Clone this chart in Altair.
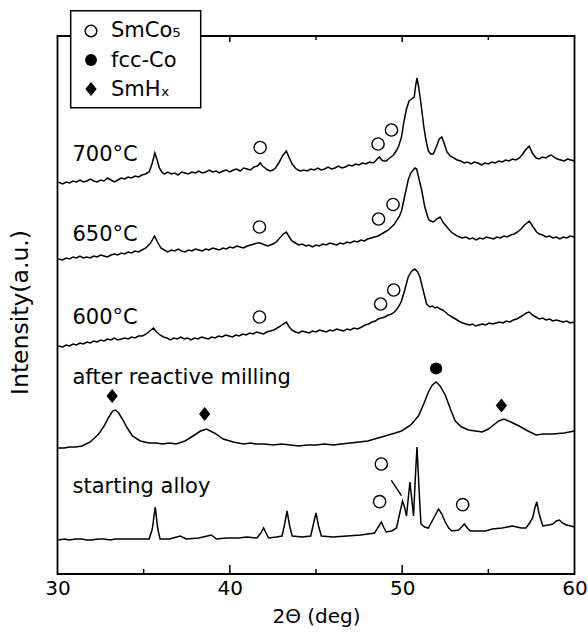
import altair as alt
import pandas as pd

FONT = "DejaVu Sans"

# ---------------- data (2-theta in deg, intensity in a.u.) ----------------
pts_700 = [(30.05,392),(30.3,390),(30.5,392),(30.7,391),(30.9,393),(31.1,392),(31.3,394),(31.5,392),(31.7,393),(31.9,395),(32.1,393),(32.3,392),(32.5,394),(32.7,393),(32.9,396),(33.1,394),(33.3,392),(33.5,394),(33.7,396),(33.9,395),(34.1,397),(34.3,396),(34.5,398),(34.7,397),(34.9,399),(35.1,400),(35.32,402),(35.5,411),(35.65,421),(35.8,413),(35.91,406),(36.05,402),(36.2,400),(36.4,402),(36.6,400),(36.8,401),(37.0,399),(37.2,402),(37.4,401),(37.6,400),(37.8,402),(38.0,401),(38.2,403),(38.4,401),(38.6,402),(38.8,404),(39.0,402),(39.2,403),(39.4,401),(39.6,403),(39.8,404),(40.0,402),(40.2,404),(40.4,405),(40.6,403),(40.8,406),(41.0,405),(41.2,404),(41.4,407),(41.6,408),(41.76,411),(41.9,408),(42.05,406),(42.2,404),(42.35,403),(42.5,404),(42.65,406),(42.84,411),(43.05,418),(43.28,423),(43.45,416),(43.62,410),(43.8,406),(43.95,404),(44.1,403),(44.3,404),(44.5,403),(44.7,405),(44.9,404),(45.1,406),(45.3,404),(45.5,405),(45.7,407),(45.9,405),(46.1,406),(46.3,408),(46.5,406),(46.7,407),(46.9,409),(47.1,408),(47.3,410),(47.5,409),(47.7,411),(47.9,410),(48.1,412),(48.3,411),(48.45,413),(48.6,416),(48.69,417),(48.8,414),(48.95,413),(49.08,413),(49.2,415),(49.35,417),(49.5,419),(49.65,423),(49.8,428),(49.96,437),(50.1,452),(50.25,465),(50.4,473),(50.55,475),(50.7,477),(50.78,488),(50.86,496),(50.95,488),(51.03,478),(51.13,465),(51.25,448),(51.4,432),(51.52,423),(51.65,420),(51.81,420),(52.0,428),(52.15,435),(52.3,437),(52.45,430),(52.6,422),(52.79,418),(53.0,416),(53.2,414),(53.4,413),(53.6,411),(53.8,412),(54.0,410),(54.2,412),(54.4,411),(54.6,409),(54.8,411),(55.0,410),(55.2,412),(55.4,411),(55.6,413),(55.8,412),(56.0,414),(56.2,413),(56.4,415),(56.6,414),(56.8,416),(57.0,420),(57.15,424),(57.38,428),(57.55,421),(57.77,416),(57.95,415),(58.15,417),(58.35,416),(58.5,418),(58.65,419),(58.8,417),(59.0,415),(59.2,414),(59.4,413),(59.6,415),(59.8,414),(60.0,413)]

pts_650 = [(30.05,315),(30.3,314),(30.5,316),(30.7,315),(30.9,317),(31.1,316),(31.3,318),(31.5,316),(31.7,317),(31.9,316),(32.1,318),(32.3,317),(32.5,319),(32.7,318),(32.9,317),(33.1,319),(33.3,320),(33.5,319),(33.7,321),(33.9,320),(34.1,322),(34.3,321),(34.5,323),(34.7,322),(34.9,324),(35.13,326),(35.4,331),(35.63,338),(35.8,332),(36.0,326),(36.2,324),(36.4,322),(36.6,324),(36.8,323),(37.0,325),(37.2,323),(37.4,322),(37.6,324),(37.8,323),(38.0,325),(38.2,324),(38.4,323),(38.6,325),(38.8,324),(39.0,326),(39.2,325),(39.4,324),(39.6,326),(39.8,325),(40.0,327),(40.2,326),(40.4,328),(40.6,327),(40.8,326),(41.0,328),(41.2,329),(41.4,330),(41.6,331),(41.76,331),(41.9,330),(42.05,329),(42.2,328),(42.35,329),(42.5,330),(42.7,332),(42.9,336),(43.1,340),(43.28,342),(43.45,337),(43.6,333),(43.8,331),(44.0,329),(44.2,330),(44.4,328),(44.6,329),(44.8,327),(45.0,329),(45.2,328),(45.4,330),(45.6,329),(45.8,331),(46.0,330),(46.2,329),(46.4,331),(46.6,330),(46.8,332),(47.0,331),(47.2,333),(47.4,332),(47.6,334),(47.8,333),(48.0,335),(48.2,336),(48.4,337),(48.6,338),(48.8,340),(49.0,342),(49.2,344),(49.38,347),(49.55,350),(49.7,354),(49.85,358),(49.96,363),(50.15,378),(50.35,394),(50.5,401),(50.64,404),(50.75,406),(50.84,405),(50.95,397),(51.13,384),(51.3,368),(51.52,355),(51.65,353),(51.81,352),(52.0,355),(52.2,357),(52.4,351),(52.55,348),(52.69,345),(52.85,342),(53.0,340),(53.2,338),(53.47,336),(53.7,337),(53.9,335),(54.1,336),(54.3,334),(54.5,336),(54.7,335),(54.9,337),(55.1,336),(55.3,335),(55.5,337),(55.7,336),(55.9,338),(56.1,337),(56.3,339),(56.5,340),(56.7,342),(56.9,345),(57.1,349),(57.38,353),(57.6,347),(57.8,342),(57.96,340),(58.15,339),(58.35,337),(58.55,338),(58.75,336),(58.95,337),(59.15,335),(59.35,337),(59.55,336),(59.75,338),(60.0,337)]

pts_600 = [(30.05,228),(30.3,227),(30.5,229),(30.7,228),(30.9,230),(31.1,229),(31.3,231),(31.5,230),(31.7,232),(31.9,231),(32.1,233),(32.3,232),(32.5,234),(32.7,233),(32.9,235),(33.1,234),(33.3,236),(33.5,234),(33.7,235),(33.9,236),(34.1,235),(34.3,237),(34.5,236),(34.7,238),(34.93,238),(35.15,240),(35.35,243),(35.57,246),(35.75,242),(35.95,239),(36.15,237),(36.35,236),(36.55,234),(36.75,236),(36.95,235),(37.15,237),(37.35,235),(37.55,236),(37.75,234),(37.95,236),(38.15,235),(38.35,237),(38.55,236),(38.75,235),(38.95,237),(39.15,236),(39.35,238),(39.55,237),(39.75,239),(39.95,238),(40.15,237),(40.35,239),(40.55,238),(40.75,240),(40.95,239),(41.15,241),(41.35,240),(41.55,242),(41.75,241),(41.95,240),(42.15,242),(42.35,243),(42.55,244),(42.75,246),(42.95,248),(43.1,250),(43.28,252),(43.45,247),(43.6,244),(43.8,242),(44.0,241),(44.2,243),(44.4,242),(44.6,241),(44.8,243),(45.0,242),(45.2,244),(45.4,243),(45.6,242),(45.8,244),(46.0,243),(46.2,245),(46.4,244),(46.6,243),(46.8,245),(47.0,244),(47.2,246),(47.42,245),(47.65,247),(47.85,249),(48.05,250),(48.25,252),(48.45,253),(48.6,255),(48.8,256),(49.0,257),(49.2,259),(49.38,260),(49.55,262),(49.7,265),(49.85,269),(49.96,273),(50.15,284),(50.35,297),(50.55,303),(50.74,305),(50.9,302),(51.03,297),(51.2,285),(51.42,270),(51.6,267),(51.75,268),(51.91,266),(52.05,267),(52.2,265),(52.35,264),(52.5,262),(52.7,259),(52.9,257),(53.1,255),(53.28,253),(53.5,251),(53.7,250),(53.9,249),(54.1,250),(54.25,248),(54.45,249),(54.65,250),(54.85,249),(55.05,251),(55.25,250),(55.45,251),(55.65,252),(55.85,251),(56.05,253),(56.25,252),(56.45,254),(56.65,255),(56.85,257),(57.05,259),(57.2,261),(57.38,262),(57.55,259),(57.75,257),(57.96,255),(58.15,256),(58.35,254),(58.55,255),(58.75,253),(58.95,254),(59.15,253),(59.35,252),(59.55,253),(59.75,251),(60.0,252)]

pts_mill = [(30.05,126),(30.4,126),(30.7,127),(31.05,127),(31.42,128),(31.9,132),(32.39,140),(32.7,148),(32.98,157),(33.2,163),(33.37,164),(33.55,161),(33.76,155),(34.05,146),(34.35,138),(34.8,133),(35.32,131),(35.7,131),(36.1,130),(36.5,131),(36.88,130),(37.4,133),(37.86,138),(38.3,143),(38.64,145),(39.1,141),(39.62,135),(40.2,132),(40.79,130),(41.2,131),(41.5,130),(42.0,130),(42.5,129),(43.0,130),(43.52,129),(44.0,128),(44.5,129),(45.0,129),(45.5,130),(46.0,129),(46.45,130),(47.0,131),(47.5,132),(48.0,133),(48.4,135),(48.8,137),(49.2,139),(49.6,141),(49.96,143),(50.5,149),(50.94,158),(51.25,170),(51.52,182),(51.75,189),(51.97,192),(52.2,188),(52.5,179),(52.8,165),(53.08,153),(53.45,147),(53.86,144),(54.25,143),(54.64,142),(55.0,145),(55.23,148),(55.6,153),(55.91,155),(56.3,152),(56.79,148),(57.3,143),(57.77,139),(58.2,140),(58.74,140),(59.4,141),(60.0,143)]

pts_start = [(30.05,34),(30.4,35),(30.7,34),(31.05,35),(31.4,35),(31.7,34),(32.0,34),(32.35,35),(32.7,35),(33.05,34),(33.37,35),(34.0,35),(34.7,35),(35.32,35),(35.5,45),(35.67,67),(35.82,45),(35.95,35),(36.5,35),(37.12,38),(37.47,35),(38.2,36),(38.93,39),(39.22,35),(39.8,36),(40.5,36),(41.0,37),(41.57,36),(41.8,41),(41.96,46),(42.1,41),(42.25,36),(42.7,37),(43.03,38),(43.18,50),(43.32,63),(43.47,48),(43.62,38),(44.2,37),(44.69,38),(44.85,50),(45.0,61),(45.15,48),(45.31,38),(46.0,37),(46.8,38),(47.6,39),(48.4,41),(48.65,48),(48.79,52),(48.95,46),(49.08,42),(49.4,43),(49.67,46),(49.85,60),(50.02,73),(50.15,66),(50.25,58),(50.35,75),(50.45,92),(50.55,76),(50.66,58),(50.76,95),(50.86,127),(50.97,88),(51.09,50),(51.3,47),(51.52,46),(51.8,55),(52.11,65),(52.3,60),(52.5,52),(52.7,46),(52.89,43),(53.28,44),(53.45,47),(53.61,50),(53.78,46),(53.96,43),(54.4,43),(54.84,43),(55.23,45),(55.8,46),(56.4,48),(56.9,46),(57.18,46),(57.4,51),(57.57,56),(57.7,66),(57.81,72),(57.95,60),(58.16,48),(58.5,49),(58.74,50),(58.95,53),(59.13,54),(59.3,51),(59.52,49),(59.8,48),(60.0,47)]

series_names = ["700°C", "650°C", "600°C", "after reactive milling", "starting alloy"]
label_x = [30.87, 30.87, 30.87, 30.87, 30.87]
label_y = [413, 333, 250, 190, 81]

# phase markers
smco5_x = [41.76, 48.6, 49.38, 41.72, 48.63, 49.47, 41.72, 48.75, 49.51, 48.79, 48.69, 53.51]
smco5_y = [426.5, 430, 444, 347, 355, 369.5, 257, 270, 284, 110, 72.4, 69.4]
fcc_x = [51.97]
fcc_y = [205.5]
smh_x = [33.17, 38.54, 55.76]
smh_y = [178, 160, 168.5]
pointer_x = [49.37]
pointer_x2 = [49.96]
pointer_y = [93.6]
pointer_y2 = [78.4]

legend_names = ["SmCo\u2085", "fcc-Co", "SmH\u2093"]

major_ticks = [40, 50]
minor_ticks = [35, 45, 55]

# ---------------- tables ----------------
rows = []
for name, pts in zip(series_names, [pts_700, pts_650, pts_600, pts_mill, pts_start]):
    for i, (a, b) in enumerate(pts):
        rows.append({"series": name, "two_theta": a, "intensity": b, "order": i})
curves = pd.DataFrame(rows)

labels_df = pd.DataFrame({"two_theta": label_x, "intensity": label_y, "label": series_names})
smco5_df = pd.DataFrame({"two_theta": smco5_x, "intensity": smco5_y})
fcc_df = pd.DataFrame({"two_theta": fcc_x, "intensity": fcc_y})
smh_df = pd.DataFrame({"two_theta": smh_x, "intensity": smh_y})
pointer_df = pd.DataFrame({"two_theta": pointer_x, "t2": pointer_x2,
                           "intensity": pointer_y, "i2": pointer_y2})
major_df = pd.DataFrame({"two_theta": major_ticks})
minor_df = pd.DataFrame({"two_theta": minor_ticks})
one = pd.DataFrame({"k": [0]})

xscale = alt.Scale(domain=[30, 60], nice=False, zero=False)
yscale = alt.Scale(domain=[0, 538], nice=False, zero=False)

x_axis = alt.Axis(values=[30, 40, 50, 60], ticks=False, domain=False, grid=False,
                  labelFont=FONT, labelFontSize=20, labelColor="black", labelPadding=4,
                  labelFlush=False, title="2\u0398 (deg)", titleFont=FONT, titleFontSize=20,
                  titleFontWeight="normal", titleColor="black", titlePadding=8)
y_axis = alt.Axis(labels=False, ticks=False, domain=False, grid=False,
                  title="Intensity(a.u.)", titleFont=FONT, titleFontSize=23.5,
                  titleFontWeight="normal", titleColor="black", titlePadding=25,
                  titleY=276)


def X(field="two_theta"):
    return alt.X(f"{field}:Q", scale=xscale, axis=x_axis)


def Y(field="intensity"):
    return alt.Y(f"{field}:Q", scale=yscale, axis=y_axis)


lines = alt.Chart(curves).mark_line(color="black", strokeWidth=1.5).encode(
    x=X(), y=Y(), detail="series:N", order="order:Q")

texts = alt.Chart(labels_df).mark_text(
    font=FONT, fontSize=21, align="left", baseline="alphabetic", color="black"
).encode(x=X(), y=Y(), text="label:N")

open_pts = alt.Chart(smco5_df).mark_point(
    shape="circle", size=150, filled=False, stroke="black", strokeWidth=1.4, fill="white", fillOpacity=1
).encode(x=X(), y=Y())

fcc_pts = alt.Chart(fcc_df).mark_point(
    shape="circle", size=150, filled=True, color="black", opacity=1
).encode(x=X(), y=Y())

diamond_path = "M0,-1L0.8,0L0,1L-0.8,0Z"
smh_pts = alt.Chart(smh_df).mark_point(
    shape=diamond_path, size=200, filled=True, color="black", opacity=1
).encode(x=X(), y=Y())

pointer = alt.Chart(pointer_df).mark_rule(color="black", strokeWidth=1.5).encode(
    x=X(), x2="t2:Q", y=Y(), y2="i2:Q")

bottom_major = alt.Chart(major_df).mark_rule(color="black", strokeWidth=1.5).encode(
    x=X(), y=alt.value(538), y2=alt.value(529))
bottom_minor = alt.Chart(minor_df).mark_rule(color="black", strokeWidth=1.5).encode(
    x=X(), y=alt.value(538), y2=alt.value(533))
top_major = alt.Chart(major_df).mark_rule(color="black", strokeWidth=1.5).encode(
    x=X(), y=alt.value(0), y2=alt.value(6))
top_minor = alt.Chart(minor_df).mark_rule(color="black", strokeWidth=1.5).encode(
    x=X(), y=alt.value(0), y2=alt.value(4))

# legend box (drawn over the top frame)
leg_box = alt.Chart(one).mark_rect(fill="white", stroke="black", strokeWidth=1.5).encode(
    x=alt.value(13.2), x2=alt.value(143.2), y=alt.value(-25.3), y2=alt.value(71.7))
leg_open = alt.Chart(one).mark_point(
    shape="circle", size=135, filled=False, stroke="black", strokeWidth=1.4, fill="white", fillOpacity=1
).encode(x=alt.value(33.5), y=alt.value(-5))
leg_fill = alt.Chart(one).mark_point(
    shape="circle", size=140, filled=True, color="black", opacity=1
).encode(x=alt.value(33.5), y=alt.value(24))
leg_dia = alt.Chart(one).mark_point(
    shape=diamond_path, size=200, filled=True, color="black", opacity=1
).encode(x=alt.value(33.5), y=alt.value(53))

legend_rows = [1, 30.5, 60]
leg_texts = [
    alt.Chart(one).mark_text(
        font=FONT, fontSize=21, align="left", baseline="alphabetic", color="black", text=name
    ).encode(x=alt.value(53.5), y=alt.value(ry))
    for name, ry in zip(legend_names, legend_rows)
]

chart = alt.layer(
    lines, bottom_major, bottom_minor, top_major, top_minor,
    pointer, open_pts, fcc_pts, smh_pts, texts,
    leg_box, leg_open, leg_fill, leg_dia, *leg_texts
).properties(
    width=517, height=538,
    autosize=alt.AutoSizeParams(type="none"),
    padding={"left": 57.5, "top": 36, "right": 13.5, "bottom": 61},
    background="white",
).configure_view(stroke="black", strokeWidth=1.8)

chart.save("out.html", embed_options={"renderer": "svg", "actions": False})
